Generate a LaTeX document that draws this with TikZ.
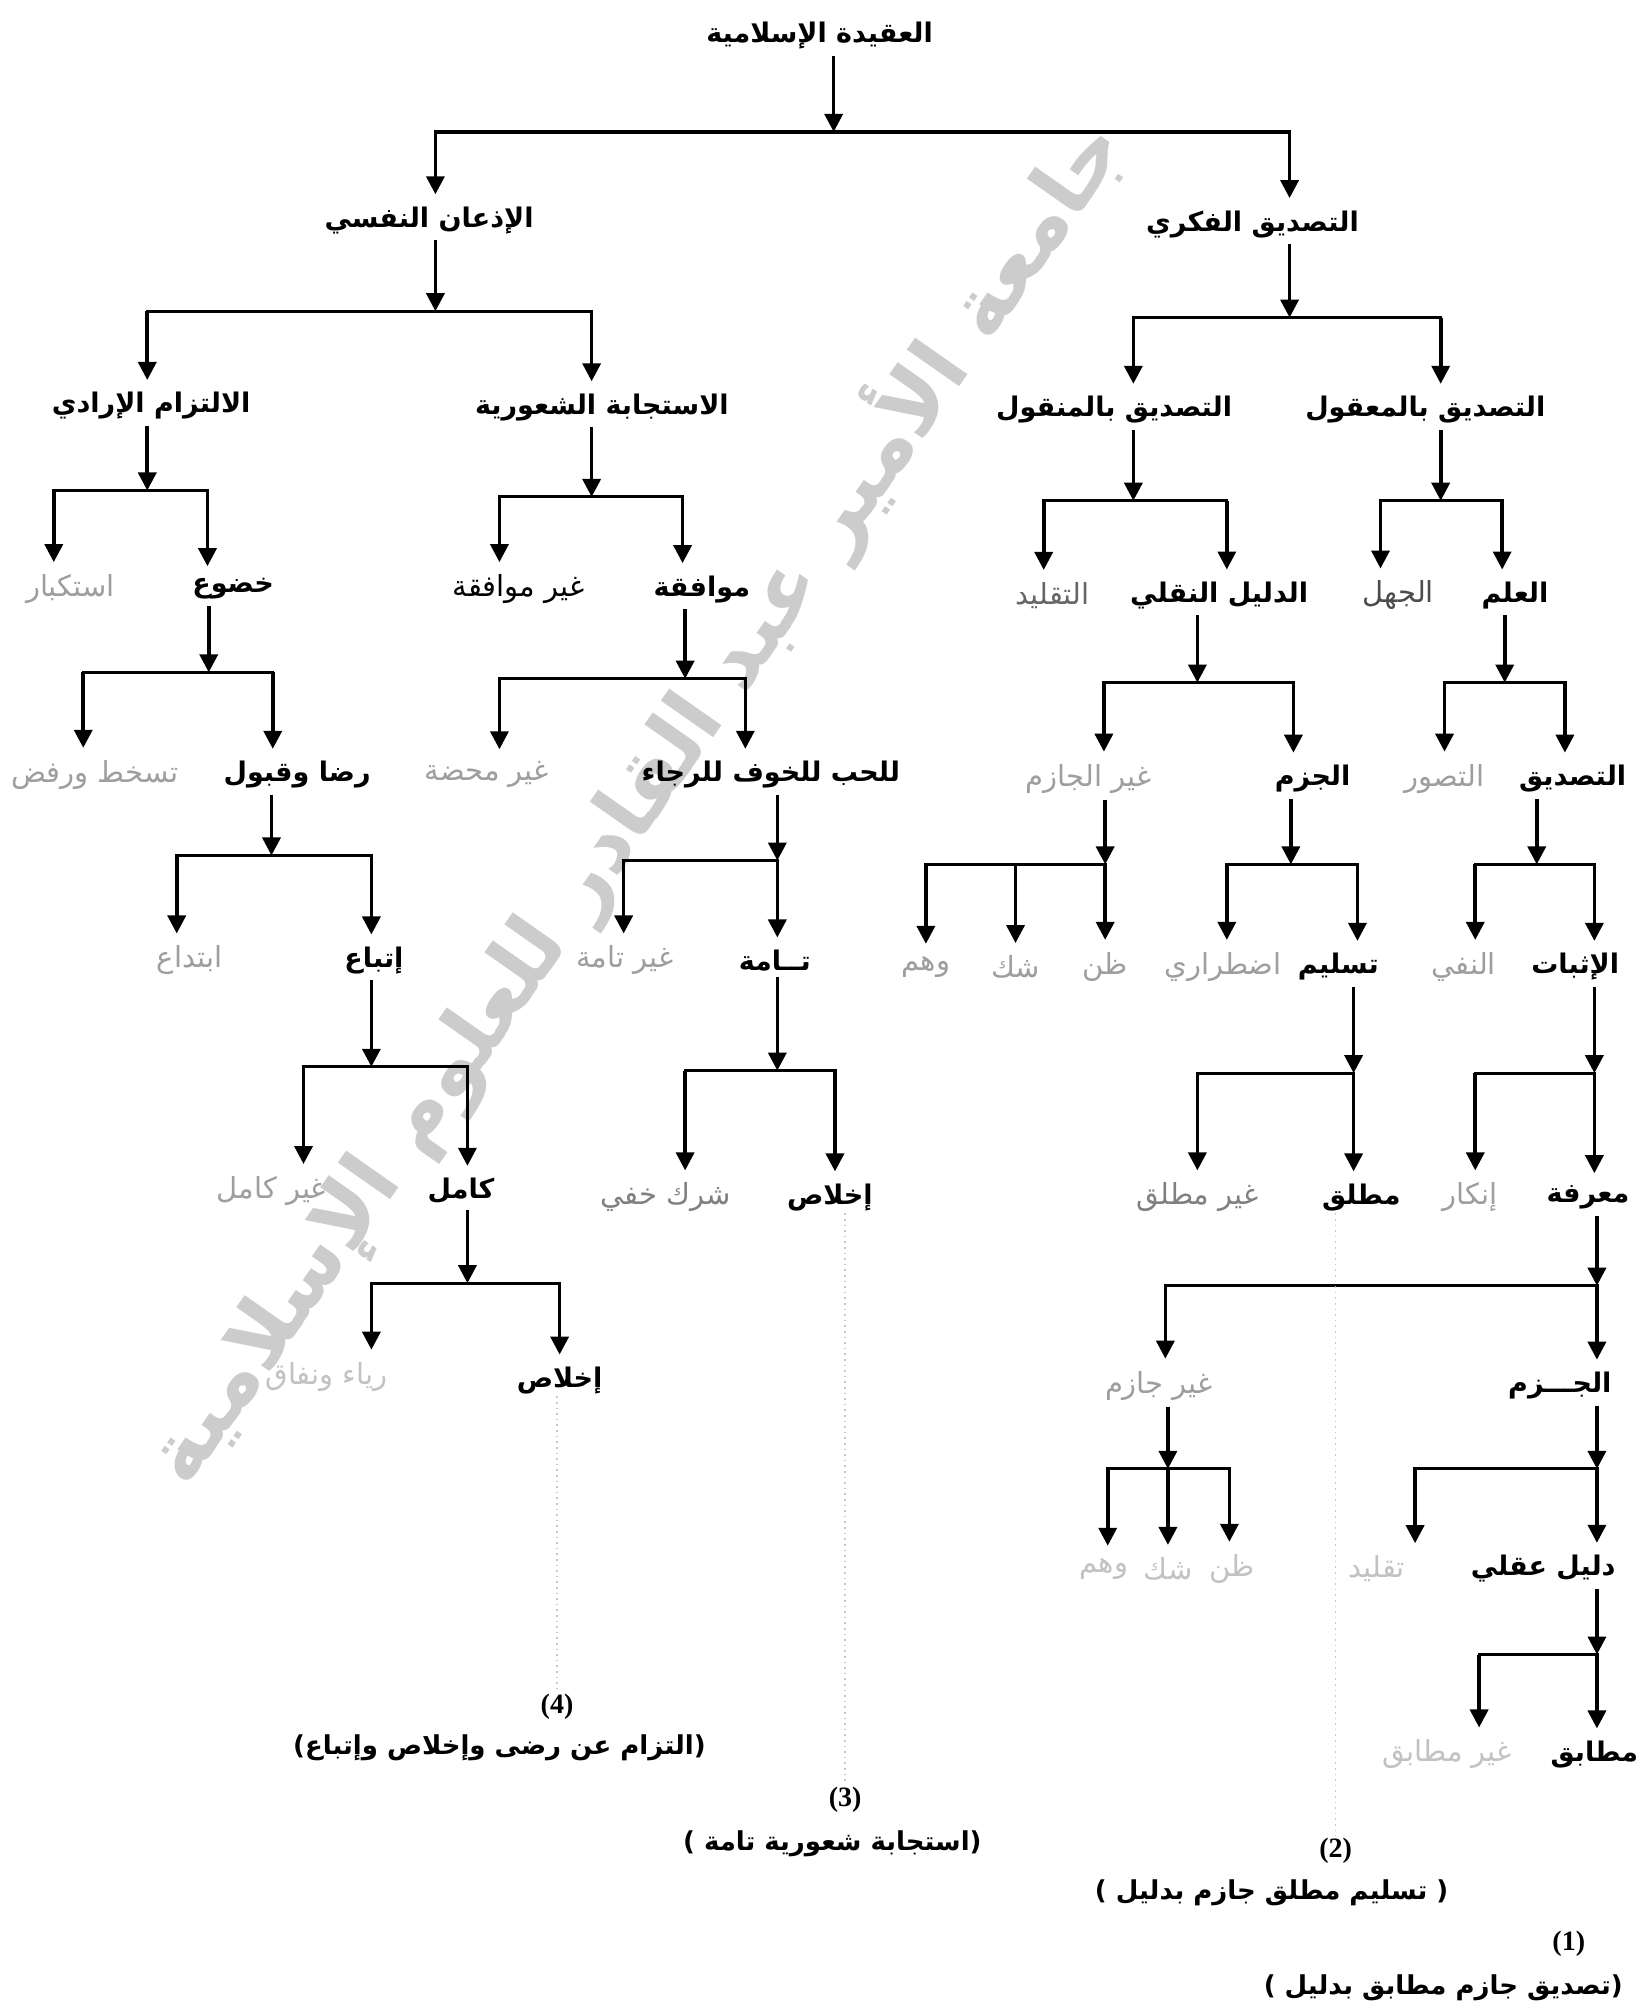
\documentclass[tikz,border=0pt]{standalone}
\usepackage{fontspec}
\usetikzlibrary{arrows.meta}
\TeXXeTstate=1
\newfontfamily\arabicfont[Script=Arabic]{DejaVu Sans}
\newfontfamily\numfont{Liberation Serif}
\newcommand\rtl[1]{\beginR #1\endR}

\tikzset{
  stem/.style={line width=1.8pt, -{Triangle[width=9pt,length=9pt]}},
  bus/.style={line width=1.6pt, line cap=rect},
  keylbl/.style={font=\arabicfont\bfseries\fontsize{13.5}{16}\selectfont, inner sep=1pt},
  plainlbl/.style={font=\arabicfont\fontsize{14.5}{17}\selectfont, inner sep=1pt},
  altlbl/.style={plainlbl, text=black!38},
  paler/.style={plainlbl, text=black!24},
  caplbl/.style={font=\arabicfont\bfseries\fontsize{13}{16}\selectfont, inner sep=1pt},
  numlbl/.style={font=\numfont\bfseries\fontsize{14}{16}\selectfont, inner sep=1pt},
  trace/.style={black!22, line width=0.8pt, dotted},
  stamp/.style={font=\arabicfont\bfseries\fontsize{42}{48}\selectfont, text=black!20, rotate=55}
}

% parent -> bus -> children
% #1 parent, #2 junction x, #3 bus y, #4 child/x list, #5 leftmost child, #6 rightmost child
\newcommand\family[6]{%
  \coordinate (#1-j) at (#2,#3);
  \draw[stem, shorten <=2pt] (#1.south -| #1-j) -- (#1-j);
  \foreach \c/\x in {#4} {%
    \coordinate (\c-in) at (\x,#3);
    \draw[stem, shorten >=5pt] (\c-in) -- (\c-in |- \c.north);
  }
  \draw[bus] (#5-in) -- (#6-in);
}

\begin{document}
\begin{tikzpicture}[x=0.64pt, y=-0.64pt]
\useasboundingbox (0,0) rectangle (1280,1568);
\fill[white] (0,0) rectangle (1280,1568);

% watermark
\node[stamp] (wm) at (495,625) {\arabicfont\rtl{جامعة الأمير عبد القادر للعلوم الإسلامية}};

% level 0
\node[keylbl] (R) at (640,28) {\rtl{العقيدة الإسلامية}};

% level 1
\node[keylbl] (nafsi) at (335,172) {\rtl{الإذعان النفسي}};
\node[keylbl] (fikri) at (978,175) {\rtl{التصديق الفكري}};

% level 2
\node[keylbl] (iltizam)  at (118,317) {\rtl{الالتزام الإرادي}};
\node[keylbl] (istijaba) at (470,318) {\rtl{الاستجابة الشعورية}};
\node[keylbl] (manqul)   at (870,320) {\rtl{التصديق بالمنقول}};
\node[keylbl] (maqul)    at (1113,320) {\rtl{التصديق بالمعقول}};

% level 3
\node[altlbl]   (istikbar)   at (55,460)  {\rtl{استكبار}};
\node[keylbl]   (khudu)      at (182,460) {\rtl{خضوع}};
\node[plainlbl] (ghmuwafaqa) at (405,460) {\rtl{غير موافقة}};
\node[keylbl]   (muwafaqa)   at (548,460) {\rtl{موافقة}};
\node[plainlbl, text=black!60] (taqlid) at (822,465) {\rtl{التقليد}};
\node[keylbl]   (naqli)      at (952,465) {\rtl{الدليل النقلي}};
\node[plainlbl, text=black!70] (jahl) at (1092,465) {\rtl{الجهل}};
\node[keylbl]   (ilm)        at (1183,465) {\rtl{العلم}};

% level 4
\node[altlbl]  (tasakhkhut) at (74,605)   {\rtl{تسخط ورفض}};
\node[keylbl]  (rida)       at (232,605)  {\rtl{رضا وقبول}};
\node[altlbl]  (ghmahda)    at (380,605)  {\rtl{غير محضة}};
\node[keylbl]  (hubb)       at (602,605)  {\rtl{للحب للخوف للرجاء}};
\node[altlbl]  (ghjazim)    at (850,608)  {\rtl{غير الجازم}};
\node[keylbl]  (jazm)       at (1025,608) {\rtl{الجزم}};
\node[altlbl]  (tasawwur)   at (1128,608) {\rtl{التصور}};
\node[keylbl]  (tasdiq)     at (1228,608) {\rtl{التصديق}};

% level 5
\node[altlbl]  (ibtida)   at (148,750)  {\rtl{ابتداع}};
\node[keylbl]  (ittiba)   at (292,750)  {\rtl{إتباع}};
\node[altlbl]  (ghtamma)  at (488,750)  {\rtl{غير تامة}};
\node[keylbl]  (tamma)    at (605,750)  {\rtl{تــامة}};
\node[altlbl]  (wahm)     at (723,755)  {\rtl{وهم}};
\node[altlbl]  (shakk)    at (793,755)  {\rtl{شك}};
\node[altlbl]  (zann)     at (863,755)  {\rtl{ظن}};
\node[altlbl]  (idtirari) at (955,755)  {\rtl{اضطراري}};
\node[keylbl]  (taslim)   at (1045,755) {\rtl{تسليم}};
\node[altlbl]  (nafy)     at (1143,755) {\rtl{النفي}};
\node[keylbl]  (ithbat)   at (1230,755) {\rtl{الإثبات}};

% level 6
\node[altlbl]  (ghkamil)  at (212,930)  {\rtl{غير كامل}};
\node[keylbl]  (kamil)    at (360,930)  {\rtl{كامل}};
\node[plainlbl, text=black!50] (shirk) at (520,935) {\rtl{شرك خفي}};
\node[keylbl]  (ikhlasA)  at (648,935)  {\rtl{إخلاص}};
\node[plainlbl, text=black!50] (ghmutlaq) at (935,935) {\rtl{غير مطلق}};
\node[keylbl]  (mutlaq)   at (1063,935) {\rtl{مطلق}};
\node[altlbl]  (inkar)    at (1148,935) {\rtl{إنكار}};
\node[keylbl]  (marifa)   at (1240,935) {\rtl{معرفة}};

% level 7
\node[paler]   (riya)     at (255,1075)  {\rtl{رياء ونفاق}};
\node[keylbl]  (ikhlasB)  at (437,1078)  {\rtl{إخلاص}};
\node[altlbl]  (ghjazimB) at (905,1082)  {\rtl{غير جازم}};
\node[keylbl]  (jazmB)    at (1218,1082) {\rtl{الجـــزم}};

% level 8
\node[paler]   (wahmB)    at (862,1225)  {\rtl{وهم}};
\node[paler]   (shakkB)   at (912,1225)  {\rtl{شك}};
\node[paler]   (zannB)    at (962,1225)  {\rtl{ظن}};
\node[paler]   (taqlidB)  at (1075,1225) {\rtl{تقليد}};
\node[keylbl]  (dalil)    at (1205,1225) {\rtl{دليل عقلي}};

% level 9
\node[paler]   (ghmutabiq) at (1130,1370) {\rtl{غير مطابق}};
\node[keylbl]  (mutabiq)   at (1245,1370) {\rtl{مطابق}};

% summaries (the Arabic font mirrors bracket glyphs, so they are typed reversed)
\node[numlbl] (n4) at (435,1333) {(4)};
\node[caplbl] (c4) at (390,1365) {)\rtl{التزام عن رضى وإخلاص وإتباع}(};
\node[numlbl] (n3) at (660,1405) {(3)};
\node[caplbl] (c3) at (650,1440) {) \rtl{استجابة شعورية تامة}(};
\node[numlbl] (n2) at (1043,1445) {(2)};
\node[caplbl] (c2) at (993,1478) {) \rtl{تسليم مطلق جازم بدليل} (};
\node[numlbl] (n1) at (1225,1518) {(1)};
\node[caplbl] (c1) at (1127,1552) {) \rtl{تصديق جازم مطابق بدليل}(};

% branches
\family{R}{651}{103}{nafsi/340, fikri/1007}{nafsi}{fikri}
\family{nafsi}{340}{243}{iltizam/115, istijaba/462}{iltizam}{istijaba}
\family{fikri}{1007}{248}{manqul/885, maqul/1125}{manqul}{maqul}
\family{iltizam}{115}{383}{istikbar/42, khudu/162}{istikbar}{khudu}
\family{istijaba}{462}{388}{ghmuwafaqa/390, muwafaqa/533}{ghmuwafaqa}{muwafaqa}
\family{manqul}{885}{391}{taqlid/815, naqli/958}{taqlid}{naqli}
\family{maqul}{1125}{391}{jahl/1078, ilm/1173}{jahl}{ilm}
\family{khudu}{163}{525}{tasakhkhut/65, rida/213}{tasakhkhut}{rida}
\family{muwafaqa}{535}{530}{ghmahda/390, hubb/582}{ghmahda}{hubb}
\family{naqli}{935}{533}{ghjazim/862, jazm/1010}{ghjazim}{jazm}
\family{ilm}{1175}{533}{tasawwur/1128, tasdiq/1222}{tasawwur}{tasdiq}
\family{rida}{212}{668}{ibtida/138, ittiba/290}{ibtida}{ittiba}
\family{hubb}{607}{672}{ghtamma/487, tamma/607}{ghtamma}{tamma}
\family{ghjazim}{863}{675}{wahm/723, shakk/793, zann/863}{wahm}{zann}
\family{jazm}{1008}{675}{idtirari/958, taslim/1060}{idtirari}{taslim}
\family{tasdiq}{1200}{675}{nafy/1152, ithbat/1245}{nafy}{ithbat}
\family{ittiba}{290}{833}{ghkamil/237, kamil/365}{ghkamil}{kamil}
\family{tamma}{607}{836}{shirk/535, ikhlasA/652}{shirk}{ikhlasA}
\family{taslim}{1057}{838}{ghmutlaq/935, mutlaq/1057}{ghmutlaq}{mutlaq}
\family{ithbat}{1245}{838}{inkar/1152, marifa/1245}{inkar}{marifa}
\family{kamil}{365}{1002}{riya/290, ikhlasB/437}{riya}{ikhlasB}
\family{marifa}{1247}{1004}{ghjazimB/910, jazmB/1247}{ghjazimB}{jazmB}
\family{ghjazimB}{912}{1147}{wahmB/865, shakkB/912, zannB/960}{wahmB}{zannB}
\family{jazmB}{1247}{1147}{taqlidB/1105, dalil/1247}{taqlidB}{dalil}
\family{dalil}{1247}{1292}{ghmutabiq/1155, mutabiq/1247}{ghmutabiq}{mutabiq}

% faint traces down to the summaries
\draw[trace] (n4 |- ikhlasB.south) -- (n4.north);
\draw[trace] (n3 |- ikhlasA.south) -- (n3.north);
\draw[trace] (n2 |- mutlaq.south) -- (n2.north);
\end{tikzpicture}
\end{document}
